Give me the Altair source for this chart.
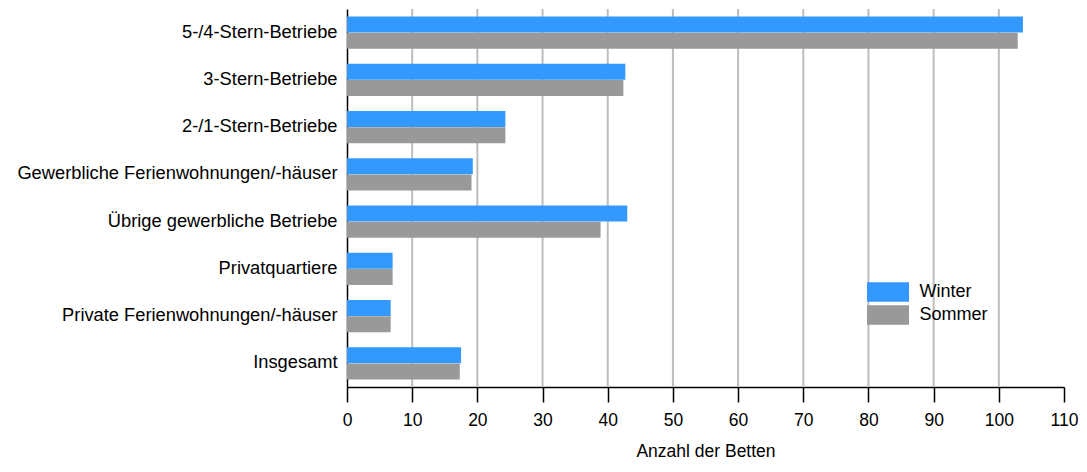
import altair as alt
import pandas as pd

categories = [
    "5-/4-Stern-Betriebe",
    "3-Stern-Betriebe",
    "2-/1-Stern-Betriebe",
    "Gewerbliche Ferienwohnungen/-häuser",
    "Übrige gewerbliche Betriebe",
    "Privatquartiere",
    "Private Ferienwohnungen/-häuser",
    "Insgesamt",
]
winter = [103.7, 42.7, 24.3, 19.3, 43.0, 7.0, 6.7, 17.5]
sommer = [102.9, 42.4, 24.3, 19.1, 38.9, 7.0, 6.7, 17.3]
series = ["Winter", "Sommer"]
colors = ["#3399ff", "#999999"]
grid_values = [10, 20, 30, 40, 50, 60, 70, 80, 90, 100]
tick_values = [0, 10, 20, 30, 40, 50, 60, 70, 80, 90, 100, 110]

rows = []
for c, w, s in zip(categories, winter, sommer):
    rows.append({"Kategorie": c, "Saison": "Winter", "Wert": w})
    rows.append({"Kategorie": c, "Saison": "Sommer", "Wert": s})
df = pd.DataFrame(rows)
grid_df = pd.DataFrame({"v": grid_values})

FONT = "Liberation Sans"

xscale = alt.Scale(domain=[0, 110], nice=False, zero=True)
xaxis = alt.Axis(
    title="Anzahl der Betten",
    values=tick_values,
    grid=False,
    tickSize=15,
    tickColor="#000000",
    tickWidth=1.5,
    domainColor="#000000",
    domainWidth=1.5,
    labelFontSize=17.5,
    labelFont=FONT,
    labelColor="#000000",
    labelPadding=9,
    labelFlush=False,
    titleFont=FONT,
    titleFontSize=17.5,
    titleFontWeight="normal",
    titleColor="#000000",
    titlePadding=14,
)

grid = alt.Chart(grid_df).mark_rule(color="#bdbdbd", strokeWidth=2).encode(
    x=alt.X("v:Q", scale=xscale, axis=xaxis, title="Anzahl der Betten")
)

bars = alt.Chart(df).mark_bar(size=16).encode(
    y=alt.Y(
        "Kategorie:N",
        sort=categories,
        scale=alt.Scale(paddingInner=0.32, paddingOuter=0.16),
        axis=alt.Axis(
            title=None,
            ticks=False,
            labelPadding=10,
            labelFontSize=18.3,
            labelFont=FONT,
            labelColor="#000000",
            domainColor="#000000",
            domainWidth=1.5,
            labelLimit=500,
        ),
    ),
    yOffset=alt.YOffset("Saison:N", sort=series, scale=alt.Scale(paddingInner=0, paddingOuter=0)),
    x=alt.X("Wert:Q", scale=xscale, axis=xaxis, title="Anzahl der Betten"),
    color=alt.Color(
        "Saison:N",
        sort=series,
        scale=alt.Scale(domain=series, range=colors),
        legend=alt.Legend(
            title=None,
            orient="none",
            legendX=531,
            legendY=273,
            padding=0,
            symbolType="M-2.1,-0.975H2.1V0.975H-2.1Z",
            symbolSize=400,
            symbolStrokeWidth=0,
            symbolOpacity=1,
            labelFontSize=18,
            labelFont=FONT,
            labelColor="#000000",
            labelOffset=21.6,
            rowPadding=3,
        ),
    ),
)

chart = (
    alt.layer(grid, bars)
    .properties(
        width=717,
        height=378,
        autosize=alt.AutoSizeParams(type="none"),
        padding={"left": 339, "top": 1, "right": 15, "bottom": 77},
    )
    .configure_view(stroke=None)
)

chart.save("out.html", embed_options={"renderer": "svg", "actions": False})
